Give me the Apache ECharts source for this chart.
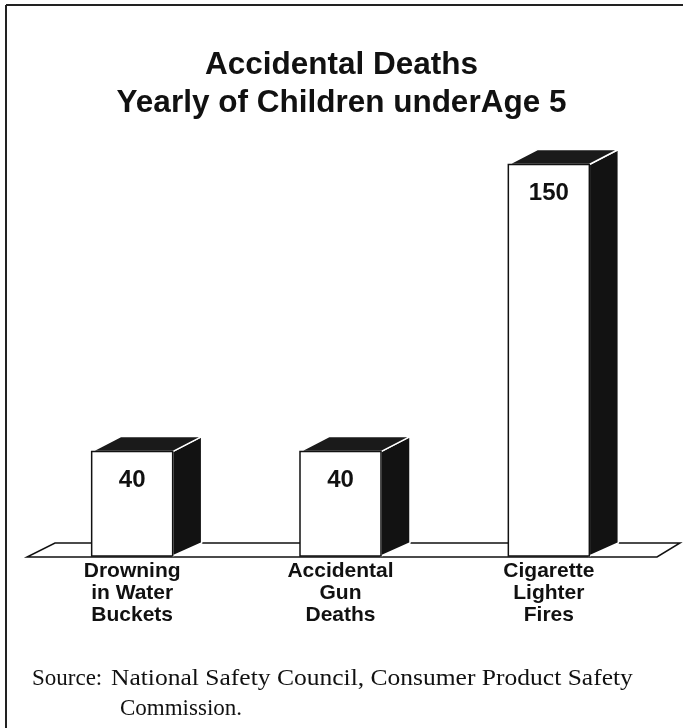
<!DOCTYPE html>
<html>
<head>
<meta charset="utf-8">
<script src="https://cdn.jsdelivr.net/npm/echarts@6/dist/echarts.min.js"></script>
<style>
  html, body { margin: 0; padding: 0; background: #fff; }
  #main { width: 683px; height: 728px; }
</style>
</head>
<body>
<div id="main"></div>
<script>
// categories (multi-line labels) and values
var categories = ['Drowning\nin Water\nBuckets', 'Accidental\nGun\nDeaths', 'Cigarette\nLighter\nFires'];
var deaths = [40, 40, 150];
var titleLines = ['Accidental Deaths', 'Yearly of Children underAge 5'];
var sourceLines = ['Source:', 'National Safety Council, Consumer Product Safety', 'Commission.'];

var sans = '"Liberation Sans", Arial, Helvetica, sans-serif';
var serif = '"Liberation Serif", "Times New Roman", serif';

// oblique depth of the 3d boxes
var DX = 29, DY = -15, BAR_W = 81;

var myChart = echarts.init(document.getElementById('main'));

myChart.setOption({
    animation: false,
    backgroundColor: '#fff',
    title: {
        text: titleLines.join('\n'),
        left: 'center',
        top: 41,
        textStyle: {
            fontFamily: sans,
            fontSize: 31.5,
            fontWeight: 'bold',
            lineHeight: 38,
            color: '#111'
        }
    },
    grid: { left: 28, right: 30, top: 34, bottom: 172 },
    xAxis: {
        type: 'category',
        data: categories,
        axisLine: { show: false },
        axisTick: { show: false },
        axisLabel: {
            margin: 4,
            fontFamily: sans,
            fontSize: 21,
            fontWeight: 'bold',
            lineHeight: 22,
            color: '#111'
        }
    },
    yAxis: { type: 'value', min: 0, max: 200, show: false },
    series: [
        {
            // floor slab
            type: 'custom',
            z: 1,
            data: [[0, 0]],
            renderItem: function (params, api) {
                var cs = params.coordSys;
                var y0 = cs.y + cs.height + 1;
                var x0 = cs.x - 1, x1 = cs.x + cs.width + 4;
                return {
                    type: 'polygon',
                    shape: { points: [[x0, y0], [x1, y0], [x1 + DX - 6, y0 + DY + 1], [x0 + DX - 1, y0 + DY + 1]] },
                    style: { fill: '#fff', stroke: '#111', lineWidth: 1.5 }
                };
            }
        },
        {
            // 3d boxes
            type: 'custom',
            z: 2,
            data: deaths.map(function (v, i) { return [i, v]; }),
            renderItem: function (params, api) {
                var top = api.coord([api.value(0), api.value(1)]);
                var base = api.coord([api.value(0), 0]);
                var l = top[0] - BAR_W / 2, r = top[0] + BAR_W / 2;
                var t = top[1], b = base[1];
                return {
                    type: 'group',
                    children: [
                        {
                            type: 'polygon',
                            shape: { points: [[r, b], [r + DX, b + DY + 2], [r + DX, t + DY], [r, t]] },
                            style: { fill: '#121212', stroke: '#fff', lineWidth: 1.5 }
                        },
                        {
                            type: 'polygon',
                            shape: { points: [[l, t], [l + DX, t + DY], [r + DX, t + DY], [r, t]] },
                            style: { fill: '#1a1a1a', stroke: '#fff', lineWidth: 1.5 }
                        },
                        {
                            type: 'rect',
                            shape: { x: l, y: t, width: BAR_W, height: b - t },
                            style: { fill: '#fff', stroke: '#111', lineWidth: 1.5 }
                        },
                        {
                            type: 'text',
                            style: {
                                x: top[0], y: t + 29,
                                text: String(api.value(1)),
                                align: 'center', verticalAlign: 'middle',
                                font: 'bold 24px ' + sans,
                                fill: '#111'
                            }
                        }
                    ]
                };
            }
        }
    ],
    graphic: [
        { type: 'line', shape: { x1: 6, y1: 5, x2: 683, y2: 5 }, style: { stroke: '#222', lineWidth: 2 } },
        { type: 'line', shape: { x1: 6, y1: 5, x2: 6, y2: 728 }, style: { stroke: '#222', lineWidth: 2 } },
        {
            type: 'text', x: 32, y: 667,
            style: { text: sourceLines[0], font: '23px ' + serif, fill: '#111' }
        },
        {
            type: 'text', x: 111, y: 667, scaleX: 1.11,
            style: { text: sourceLines[1], font: '23px ' + serif, fill: '#111' }
        },
        {
            type: 'text', x: 120, y: 697,
            style: { text: sourceLines[2], font: '23px ' + serif, fill: '#111' }
        }
    ]
});
</script>
</body>
</html>
